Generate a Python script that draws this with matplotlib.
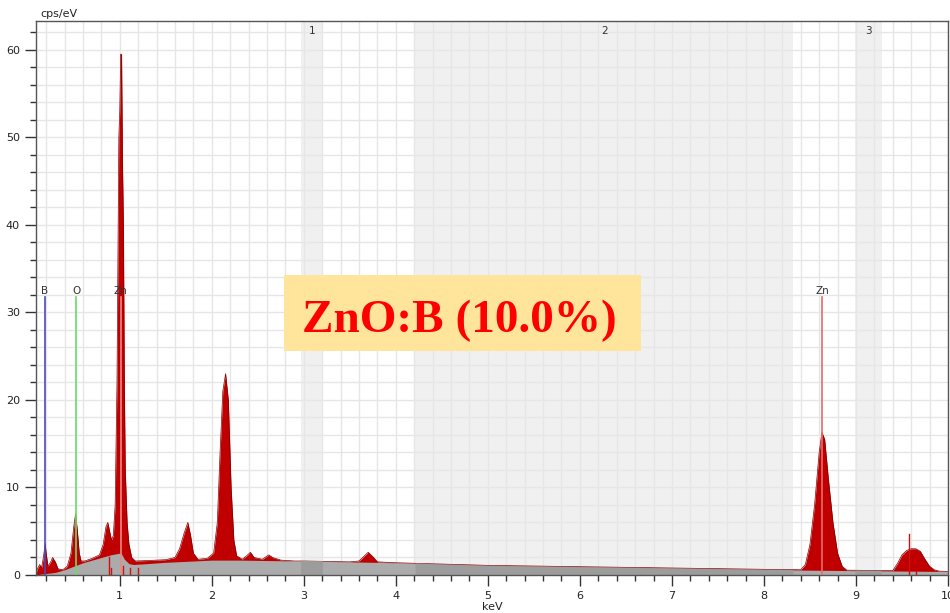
import matplotlib
matplotlib.use("Agg")
import matplotlib.pyplot as plt
import numpy as np
from matplotlib.ticker import MultipleLocator, FixedLocator
from matplotlib.patches import Rectangle

# ---- data ----
spec_kev = [0.09, 0.10, 0.13, 0.15, 0.17, 0.19, 0.20, 0.22, 0.25, 0.27, 0.30, 0.33, 0.38,
            0.43, 0.47, 0.50, 0.52, 0.54, 0.56, 0.58, 0.62, 0.70, 0.78, 0.82, 0.85, 0.87,
            0.89, 0.91, 0.93, 0.95, 0.97, 0.98, 0.99, 1.00, 1.01, 1.02, 1.03, 1.04, 1.05,
            1.06, 1.08, 1.10, 1.13, 1.17, 1.30, 1.50, 1.60, 1.65, 1.70, 1.74, 1.77, 1.80,
            1.85, 1.95, 2.02, 2.06, 2.09, 2.12, 2.15, 2.18, 2.21, 2.24, 2.27, 2.33, 2.38,
            2.42, 2.46, 2.55, 2.62, 2.66, 2.75, 2.90, 3.00, 3.50, 3.60, 3.65, 3.70, 3.75,
            3.80, 4.00, 5.00, 6.00, 7.00, 8.00, 8.40, 8.45, 8.50, 8.55, 8.60, 8.63, 8.66,
            8.70, 8.75, 8.80, 8.85, 8.90, 9.40, 9.45, 9.50, 9.55, 9.60, 9.65, 9.70, 9.75,
            9.80, 9.85, 9.90, 10.0]
spec_cps = [0.0, 0.6, 1.2, 0.8, 2.0, 3.6, 2.5, 1.0, 1.5, 2.0, 1.5, 0.7, 0.6,
            1.0, 2.5, 5.5, 7.0, 5.0, 2.5, 1.6, 1.6, 1.9, 2.3, 3.5, 5.5, 6.0,
            5.0, 4.0, 4.5, 8.0, 22.0, 36.0, 50.0, 53.0, 59.5, 59.5, 47.0, 40.0, 22.0,
            12.0, 6.0, 3.5, 2.0, 1.6, 1.65, 1.75, 2.0, 3.0, 4.8, 6.0, 4.5, 2.5,
            1.8, 1.9, 2.5, 6.0, 14.0, 21.0, 23.0, 20.0, 10.0, 4.0, 2.2, 1.8, 2.2,
            2.6, 2.0, 1.8, 2.3, 2.0, 1.7, 1.6, 1.6, 1.5, 1.6, 2.1, 2.6, 2.1,
            1.5, 1.4, 1.1, 0.95, 0.8, 0.65, 0.6, 1.2, 3.5, 8.0, 14.0, 16.3, 15.5,
            11.0, 6.0, 2.5, 1.0, 0.55, 0.5, 1.3, 2.3, 2.8, 3.0, 3.0, 2.7, 1.8,
            1.0, 0.6, 0.45, 0.4]

bg_kev = [0.09, 0.15, 0.30, 0.40, 0.50, 0.60, 0.70, 0.80, 0.90, 1.00, 1.02, 1.05, 1.10,
          1.15, 1.30, 1.50, 1.70, 2.00, 2.30, 2.60, 3.00, 3.50, 4.00, 4.50, 5.00, 6.00,
          7.00, 8.00, 9.00, 10.0]
bg_cps = [0.0, 0.1, 0.3, 0.6, 1.0, 1.4, 1.7, 2.0, 2.3, 2.5, 2.4, 1.8, 1.3,
          1.2, 1.3, 1.45, 1.55, 1.7, 1.7, 1.65, 1.6, 1.5, 1.4, 1.2, 1.05, 0.9,
          0.75, 0.6, 0.5, 0.4]

marker_names = ["B", "O", "Zn", "Zn"]
marker_kev = [0.183, 0.525, 1.012, 8.630]
marker_colors = ["#4a4ab8", "#66dd66", "#e88a8a", "#e86a6a"]

minor_line_kev = [0.884, 0.907, 1.034, 1.107, 1.20, 9.572, 9.65]
minor_line_cps = [2.0, 0.8, 1.0, 0.8, 0.8, 4.7, 0.5]

regions = [(2.97, 3.21, "1"), (4.21, 8.32, "2"), (8.99, 9.28, "3")]
label_text = "ZnO:B (10.0%)"

# ---- figure ----
fig = plt.figure(figsize=(9.5, 6.13), dpi=100)
ax = fig.add_axes([36/950, 1-575/613, (948-36)/950, (575-21)/613])
ax.set_xlim(0.09, 10.0)
ax.set_ylim(0, 63.3)

ax.xaxis.set_major_locator(FixedLocator(range(1, 11)))
ax.xaxis.set_minor_locator(MultipleLocator(0.2))
ax.yaxis.set_major_locator(MultipleLocator(10))
ax.yaxis.set_minor_locator(MultipleLocator(2))
ax.grid(which="both", color="#e6e6e6", lw=1.0, zorder=0)
ax.set_axisbelow(True)

for x0, x1, lab in regions:
    ax.axvspan(x0, x1, color="#f0f0f0", zorder=0.5, lw=0)
    ax.text((x0 + x1) / 2, 62.2, lab, ha="center", va="center", fontsize=7.5, color="#333333")

sk = np.array(spec_kev); sc = np.array(spec_cps)
ax.fill_between(sk, 0, sc, color="#c00000", lw=0, zorder=1)
ax.plot(sk, sc, color="#800000", lw=0.5, zorder=1.1)

bk = np.array(bg_kev); bc = np.array(bg_cps)
ax.fill_between(bk, 0, bc, color="#ababab", lw=0, zorder=2)
xx = np.linspace(0.09, 10.0, 2000)
yy = np.interp(xx, bk, bc)
inreg = np.zeros_like(xx, dtype=bool)
for x0, x1, _ in regions:
    inreg |= (xx >= x0) & (xx <= x1)
ax.fill_between(xx, 0, yy, where=inreg, color="#9c9c9c", lw=0, zorder=2.1)

for k, h in zip(minor_line_kev, minor_line_cps):
    ax.plot([k, k], [0, h], color="#d01010", lw=1.0, zorder=3)

for name, k, c in zip(marker_names, marker_kev, marker_colors):
    ax.plot([k, k], [0, 31.8], color=c, lw=1.2, zorder=3)
    ax.text(k, 32.4, name, ha="center", va="center", fontsize=7.5, color="#333333")

# label box (figure-pixel placement converted to axes fraction)
bx0 = (284 - 36) / 912; bx1 = (641 - 36) / 912
by0 = (575 - 351) / 554; by1 = (575 - 275) / 554
ax.add_patch(Rectangle((bx0, by0), bx1 - bx0, by1 - by0, transform=ax.transAxes,
                       facecolor="#ffe49c", edgecolor="none", zorder=4))
ax.text(((303 + 615) / 2 - 36) / 912, (575 - 332) / 554, label_text, transform=ax.transAxes,
        ha="center", va="baseline", fontsize=34, fontweight="bold", color="#ff0000",
        family="Liberation Serif", zorder=5)

for s in ax.spines.values():
    s.set_color("#555555")
    s.set_linewidth(1.0)

ax.tick_params(which="major", direction="out", length=8, width=1, color="#333333",
               labelsize=8, labelcolor="#222222")
ax.tick_params(which="minor", direction="out", length=4, width=1, color="#333333")
ax.set_xticklabels([str(i) for i in range(1, 11)])
ax.set_xlabel("keV", fontsize=8, labelpad=1, color="#222222")
fig.text(40/950, 1-14/613, "cps/eV", fontsize=8, color="#222222", va="center", ha="left")

fig.savefig("out.png", dpi=100)
